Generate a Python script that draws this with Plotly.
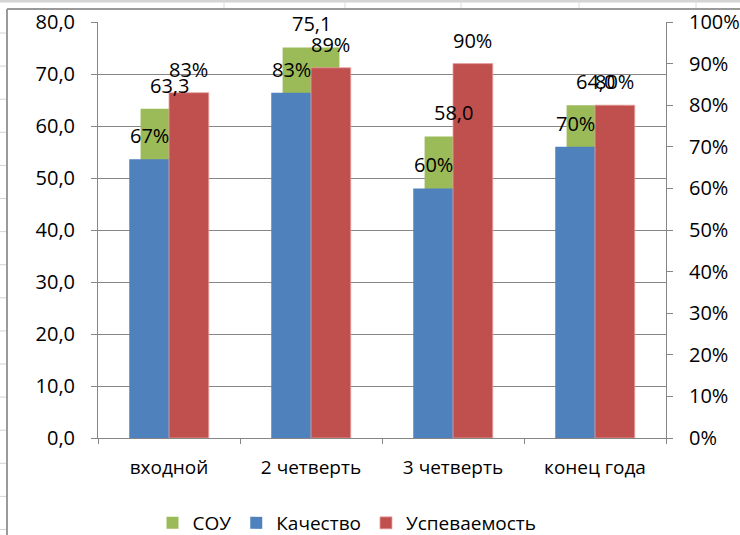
import plotly.graph_objects as go

categories = ["входной", "2 четверть", "3 четверть", "конец года"]
sou = [63.3, 75.1, 58.0, 64.0]
kachestvo = [0.67, 0.83, 0.60, 0.70]
uspevaemost = [0.83, 0.89, 0.90, 0.80]
left_ticks = [0, 10, 20, 30, 40, 50, 60, 70, 80]
right_ticks = [0, 0.1, 0.2, 0.3, 0.4, 0.5, 0.6, 0.7, 0.8, 0.9, 1.0]

W, H = 740, 535
L, R, T, B = 98, 666, 22, 438
FONT = "Open Sans"
GRAY = "#868686"
NUM = 20
TXT = 19

def px(x):
    return (x - L) / (R - L)

def py(y):
    return (B - y) / (B - T)

fig = go.Figure()
fig.add_trace(go.Bar(name="СОУ", x=categories, y=sou, width=0.4, offset=-0.2,
                     marker=dict(color="#9BBB59", line=dict(width=0)), yaxis="y"))
fig.add_trace(go.Bar(name="Качество", x=categories, y=kachestvo, width=0.28, offset=-0.28,
                     marker=dict(color="#4F81BD", line=dict(width=0)), yaxis="y2"))
fig.add_trace(go.Bar(name="Успеваемость", x=categories, y=uspevaemost, width=0.28, offset=0.0,
                     marker=dict(color="#C0504D", line=dict(width=0.8, color="#E8A0A0")), yaxis="y2"))

ann = []
for i, v in enumerate(sou):
    ann.append(dict(x=i, y=v, xref="x", yref="y", text=f"{v:.1f}".replace(".", ","),
                    showarrow=False, yanchor="bottom", yshift=8, font=dict(size=NUM, color="#000")))
for i, v in enumerate(kachestvo):
    ann.append(dict(x=i - 0.14, y=v, xref="x", yref="y2", text=f"{round(v*100)}%",
                    showarrow=False, yanchor="bottom", yshift=8, font=dict(size=NUM, color="#000")))
for i, v in enumerate(uspevaemost):
    ann.append(dict(x=i + 0.14, y=v, xref="x", yref="y2", text=f"{round(v*100)}%",
                    showarrow=False, yanchor="bottom", yshift=8, font=dict(size=NUM, color="#000")))

shapes = []
# spreadsheet background lines
shapes.append(dict(type="line", xref="paper", yref="paper", x0=px(0), x1=px(740), y0=py(1), y1=py(1),
                   line=dict(color="#D4D4D4", width=3), layer="below"))
for xc in [224, 345, 461, 579, 696]:
    shapes.append(dict(type="line", xref="paper", yref="paper", x0=px(xc), x1=px(xc), y0=py(0), y1=py(8),
                       line=dict(color="#DADADA", width=1), layer="below"))
yy = 33
while yy < 535:
    shapes.append(dict(type="line", xref="paper", yref="paper", x0=px(0), x1=px(6), y0=py(yy), y1=py(yy),
                       line=dict(color="#D4D4D4", width=1), layer="below"))
    yy += 33.1
# chart border
shapes.append(dict(type="line", xref="paper", yref="paper", x0=px(7), x1=px(7), y0=py(9), y1=py(540),
                   line=dict(color="#9A9A9A", width=2), layer="below"))
shapes.append(dict(type="line", xref="paper", yref="paper", x0=px(7), x1=px(745), y0=py(9), y1=py(9),
                   line=dict(color="#9A9A9A", width=2), layer="below"))

fig.update_layout(
    template="none",
    width=W, height=H,
    margin=dict(l=L, r=W - R, t=T, b=H - B, pad=0, autoexpand=False),
    paper_bgcolor="white", plot_bgcolor="white",
    separators=", ",
    barmode="overlay",
    font=dict(family=FONT, size=TXT, color="#000"),
    xaxis=dict(type="category", tickson="boundaries", ticks="outside", ticklen=5,
               tickcolor=GRAY, showline=True, linecolor=GRAY, linewidth=1, automargin=False,
               showgrid=False, tickfont=dict(size=TXT), range=[-0.5, 3.5], ticklabelstandoff=12),
    yaxis=dict(range=[0, 80], tickvals=left_ticks, tickformat=".1f", ticks="outside", ticklen=6,
               tickcolor=GRAY, showline=True, linecolor=GRAY, linewidth=1, automargin=False,
               showgrid=True, gridcolor=GRAY, gridwidth=1, zeroline=False,
               tickfont=dict(size=NUM), ticklabelstandoff=12),
    yaxis2=dict(range=[0, 1], tickvals=right_ticks, tickformat=".0%", overlaying="y", side="right",
                ticks="outside", ticklen=6, tickcolor=GRAY, showline=True, linecolor=GRAY,
                linewidth=1, showgrid=False, zeroline=False, tickfont=dict(size=NUM),
                ticklabelstandoff=12, automargin=False),
    legend=dict(orientation="h", x=px(347), xanchor="center", y=py(523), yanchor="middle",
                font=dict(size=TXT), traceorder="normal", bgcolor="rgba(0,0,0,0)"),
    annotations=ann,
    shapes=shapes,
    showlegend=True,
)

fig.write_html("out.html", config={"displayModeBar": False},
               post_script="document.body.style.margin='0px';document.body.style.padding='0px';")
